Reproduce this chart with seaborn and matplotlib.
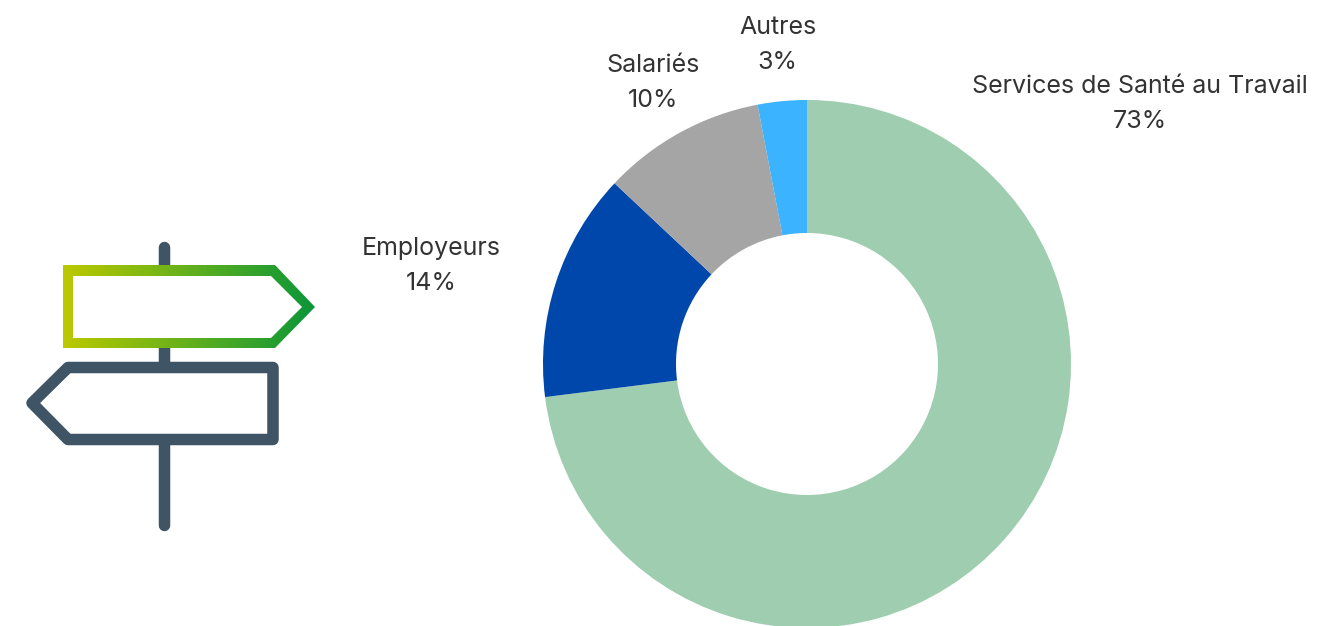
import numpy as np
import seaborn as sns
import matplotlib.pyplot as plt
from matplotlib.patches import Polygon
from matplotlib.colors import LinearSegmentedColormap

# Values
categories = ['Services de Santé au Travail', 'Employeurs', 'Salariés', 'Autres']
shares = [73, 14, 10, 3]
slice_colors = ['#9ecdb0', '#0047ab', '#a5a5a5', '#3bb3ff']

sns.set_theme(style='white')
plt.rcParams['font.family'] = ['Inter', 'DejaVu Sans']

W, H = 1342, 626
fig = plt.figure(figsize=(W / 100, H / 100), dpi=100, facecolor='white')

# Axes in pixel units so the layout can follow the picture
ax = fig.add_axes([0, 0, 1, 1])

# Donut (y axis is flipped below, so counterclock here reads clockwise on screen)
ax.pie(
    shares,
    colors=sns.color_palette(slice_colors),
    startangle=270,
    counterclock=True,
    center=(807, 364),
    radius=264,
    wedgeprops={'width': 133, 'linewidth': 0},
    frame=True,
)

# Labels
label_pos = [(1139.5, 104), (431.5, 266), (653, 83), (777.5, 45)]
for name, share, (x, y) in zip(categories, shares, label_pos):
    ax.text(x, y, f'{name}\n{share}%', ha='center', va='center',
            fontsize=18, color='#333333', linespacing=1.66)

# Signpost icon
slate = '#3f5565'
stroke = 11.5 * 0.72
ax.plot([164, 164], [247, 525], color=slate, lw=stroke, solid_capstyle='round', zorder=3)

# Left pointing sign
ax.add_patch(Polygon(
    [(68, 367.5), (273, 367.5), (273, 439.5), (68, 439.5), (32, 403)],
    closed=True, facecolor='white', edgecolor=slate, lw=stroke,
    joinstyle='round', zorder=4,
))

# Right pointing sign, stroke is a green gradient clipped to the outline
ax.add_patch(Polygon(
    [(68, 270.5), (273, 270.5), (309, 307), (273, 343), (68, 343)],
    closed=True, facecolor='white', edgecolor='none', zorder=5,
))
green_grad = LinearSegmentedColormap.from_list('green_grad', ['#bcc900', '#0a9639'])
outer = Polygon(
    [(63, 265), (275, 265), (315, 307), (275, 348), (63, 348)],
    closed=True, transform=ax.transData, facecolor='none', edgecolor='none',
)
ax.add_patch(outer)
img = ax.imshow(
    np.linspace(0, 1, 256).reshape(1, -1),
    cmap=green_grad, extent=(63, 315, 348, 265), aspect='auto', zorder=6,
)
img.set_clip_path(outer)
ax.add_patch(Polygon(
    [(73, 276), (271, 276), (302, 307), (271, 338), (73, 338)],
    closed=True, facecolor='white', edgecolor='none', zorder=7,
))

ax.set_xlim(0, W)
ax.set_ylim(H, 0)
ax.set_aspect('auto')
ax.axis('off')

plt.savefig('out.png', dpi=100, facecolor='white')
